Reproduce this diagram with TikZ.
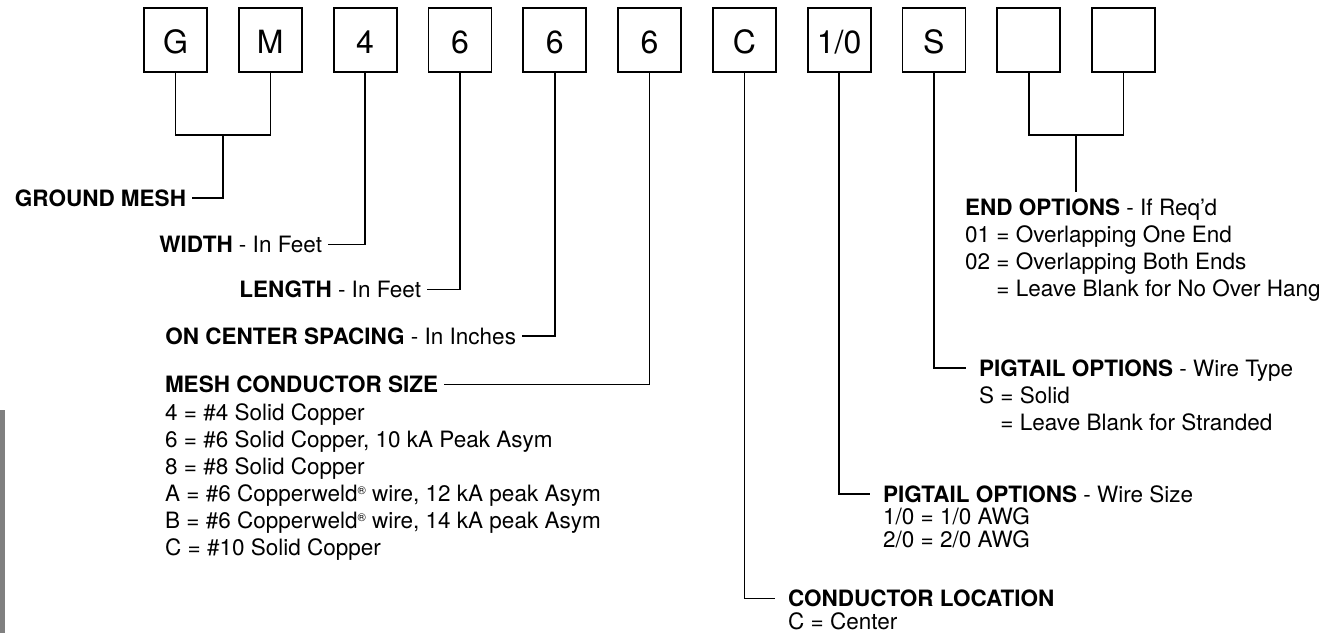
\documentclass[tikz,border=0pt]{standalone}
\usepackage{fontspec}
\setmainfont{TeX Gyre Heros}
\usetikzlibrary{positioning}
\newcommand{\regmark}{\raisebox{7pt}{\scalebox{0.5}{®}}}
\tikzset{
  code/.style={draw,line width=1.8pt,minimum width=63pt,minimum height=64pt,inner sep=0pt,outer sep=0pt,
    text height=26.6pt,text depth=0pt,font=\fontsize{32}{32}\selectfont},
  conn/.style={line width=1.6pt},
  lbl/.style={inner sep=0pt,text height=16.2pt,text depth=0pt,font=\fontsize{22.5}{27}\selectfont},
  lblL/.style={lbl,anchor=east,outer xsep=6pt},
  lblR/.style={lbl,anchor=west,outer xsep=13pt},
  lst/.style={anchor=north west,inner sep=0pt,align=left,font=\fontsize{22.5}{27}\selectfont},
  lsttight/.style={lst,font=\fontsize{22.5}{22.5}\selectfont}
}
\begin{document}
\begin{tikzpicture}[x=1pt,y=-1pt,node distance=31.8pt,line join=miter]
\useasboundingbox (0,0) rectangle (1337,633);
\fill[black!50] (0,410) rectangle (5,633);
\node[code] (g) at (175.5,40) {G};
\node[code,right=of g] (m) {M};
\node[code,right=of m] (wd) {4};
\node[code,right=of wd] (ln) {6};
\node[code,right=of ln] (sp) {6};
\node[code,right=of sp] (sz) {6};
\node[code,right=of sz] (loc) {C};
\node[code,right=of loc] (pw) {1/0};
\node[code,right=of pw] (pt) {S};
\node[code,right=of pt] (e1) {};
\node[code,right=of e1] (e2) {};
\coordinate (gmj) at (223,135);
\coordinate (ej) at (1076,135);
\node[lblL] (gnd) at (192,198) {\textbf{GROUND MESH}};
\node[lblL] (wdt) at (328,244.5) {\textbf{WIDTH} - In Feet};
\node[lblL] (lnt) at (427,289.5) {\textbf{LENGTH} - In Feet};
\node[lblL] (spt) at (522,336) {\textbf{ON CENTER SPACING} - In Inches};
\node[lbl,anchor=west,outer xsep=6pt] (szt) at (159,384.5) {\textbf{MESH CONDUCTOR SIZE}};
\node[lst] (szl) at (165,403.8) {4 = \#4 Solid Copper\\6 = \#6 Solid Copper, 10 kA Peak Asym\\8 = \#8 Solid Copper\\A = \#6 Copperweld\regmark{} wire, 12 kA peak Asym\\B = \#6 Copperweld\regmark{} wire, 14 kA peak Asym\\C = \#10 Solid Copper};
\node[lbl,anchor=west,outer ysep=7pt] (eot) at (965,207.5) {\textbf{END OPTIONS} - If Req'd};
\node[lst] (eol) at (965,225.8) {01 = Overlapping One End\\02 = Overlapping Both Ends\\\phantom{02} = Leave Blank for No Over Hang};
\node[lblR] (ptt) at (966,368) {\textbf{PIGTAIL OPTIONS} - Wire Type};
\node[lst] (ptl) at (979,386.8) {S = Solid\\\phantom{S} = Leave Blank for Stranded};
\node[lblR] (pwt) at (870,494) {\textbf{PIGTAIL OPTIONS} - Wire Size};
\node[lsttight] (pwl) at (883,507.8) {1/0 = 1/0 AWG\\2/0 = 2/0 AWG};
\node[lblR] (loct) at (775,598.5) {\textbf{CONDUCTOR LOCATION}};
\node[lsttight] (locl) at (788,612.5) {C = Center};
\draw[conn] (g.south) |- (gmj) -| (m.south);
\draw[conn] (gmj) |- (gnd.east);
\draw[conn] (wd.south) |- (wdt.east);
\draw[conn] (ln.south) |- (lnt.east);
\draw[conn] (sp.south) |- (spt.east);
\draw[conn] (sz.south) |- (szt.east);
\draw[conn] (loc.south) |- (loct.west);
\draw[conn] (pw.south) |- (pwt.west);
\draw[conn] (pt.south) |- (ptt.west);
\draw[conn] (e1.south) |- (ej) -| (e2.south);
\draw[conn] (ej) -- (ej |- eot.north);
\end{tikzpicture}
\end{document}
